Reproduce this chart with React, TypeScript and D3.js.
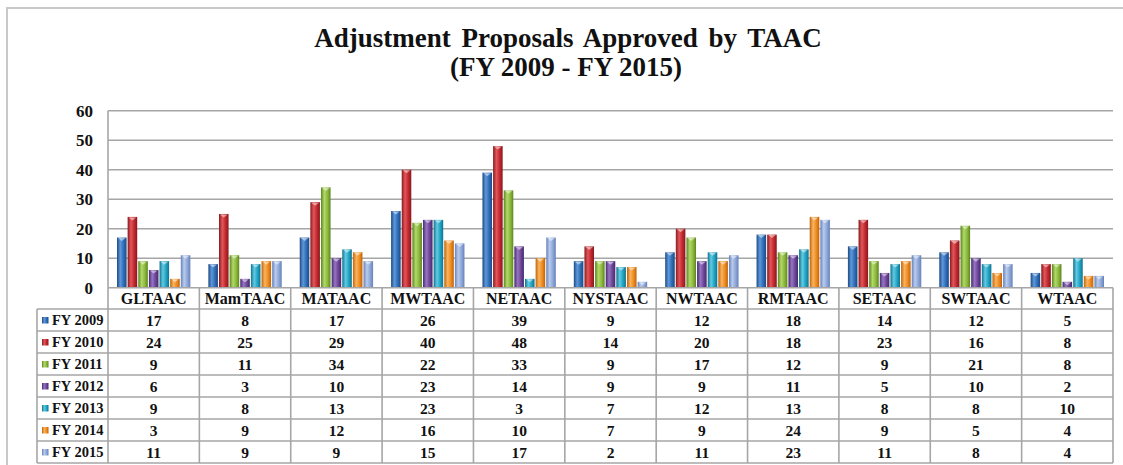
import React from "react";
import * as d3 from "d3";

const categories = ["GLTAAC", "MamTAAC", "MATAAC", "MWTAAC", "NETAAC", "NYSTAAC", "NWTAAC", "RMTAAC", "SETAAC", "SWTAAC", "WTAAC"];
const seriesNames = ["FY 2009", "FY 2010", "FY 2011", "FY 2012", "FY 2013", "FY 2014", "FY 2015"];
const fy2009 = [17, 8, 17, 26, 39, 9, 12, 18, 14, 12, 5];
const fy2010 = [24, 25, 29, 40, 48, 14, 20, 18, 23, 16, 8];
const fy2011 = [9, 11, 34, 22, 33, 9, 17, 12, 9, 21, 8];
const fy2012 = [6, 3, 10, 23, 14, 9, 9, 11, 5, 10, 2];
const fy2013 = [9, 8, 13, 23, 3, 7, 12, 13, 8, 8, 10];
const fy2014 = [3, 9, 12, 16, 10, 7, 9, 24, 9, 5, 4];
const fy2015 = [11, 9, 9, 15, 17, 2, 11, 23, 11, 8, 4];
const seriesValues = [fy2009, fy2010, fy2011, fy2012, fy2013, fy2014, fy2015];
const yTicks = [0, 10, 20, 30, 40, 50, 60];

const palette = [
  { base: "#2E6CB6", dark: "#1C4A85", light: "#5E98D8" },
  { base: "#C0272D", dark: "#861A1E", light: "#E2565A" },
  { base: "#8BB83A", dark: "#5C8520", light: "#B2D86A" },
  { base: "#6B4596", dark: "#462A6E", light: "#9775C2" },
  { base: "#1FA2C3", dark: "#13728C", light: "#62CAE2" },
  { base: "#EE8A1F", dark: "#BE640C", light: "#F9B460" },
  { base: "#8CA6D7", dark: "#6582BB", light: "#BACBEC" },
];

const FF = "Liberation Serif";

export default function App() {
  const W = 1123, H = 465;
  const plotL = 108, plotR = 1113, plotT = 110.7, plotB = 287.7;
  const x = d3.scaleBand().domain(categories).range([plotL, plotR]).padding(0);
  const bw = x.bandwidth();
  const inner = d3.scaleBand().domain(d3.range(seriesNames.length).map(String)).range([9, bw - 9]).paddingInner(0.1);
  const y = d3.scaleLinear().domain([0, 60]).range([plotB, plotT]);
  const rowH = 22;
  const headerTop = plotB, headerBot = 309;
  const legendL = 37;
  const gridColor = "#a6a6a6";

  return (
    <svg width={W} height={H} style={{ position: "absolute", left: 0, top: 0, display: "block", background: "#fff", fontFamily: FF }}>
      <style>{`text { font-family: "Liberation Serif", "Times New Roman", serif; font-weight: bold; }`}</style>
      <defs>
        {palette.map((p, i) => (
          <linearGradient key={i} id={`g${i}`} x1="0" x2="1" y1="0" y2="0">
            <stop offset="0" stopColor={p.dark} />
            <stop offset="0.35" stopColor={p.light} />
            <stop offset="0.7" stopColor={p.base} />
            <stop offset="1" stopColor={p.dark} />
          </linearGradient>
        ))}
      </defs>
      <rect x={7} y={8} width={W + 20} height={H + 20} fill="#fff" stroke="#c8c8c8" strokeWidth={2} />
      <text x={568} y={47} textAnchor="middle" fontFamily={FF} fontWeight="bold" fontSize={27} fill="#111" wordSpacing={4}>
        Adjustment Proposals Approved by TAAC
      </text>
      <text x={566} y={76} textAnchor="middle" fontFamily={FF} fontWeight="bold" fontSize={27} fill="#111">
        (FY 2009 - FY 2015)
      </text>
      {yTicks.map((t) => (
        <g key={t}>
          {t > 0 && <line x1={plotL} x2={plotR} y1={y(t)} y2={y(t)} stroke={gridColor} strokeWidth={1.6} />}
          <text x={93} y={y(t) + 6} textAnchor="end" fontFamily={FF} fontWeight="bold" fontSize={17} fill="#111">
            {t}
          </text>
        </g>
      ))}
      <line x1={plotL} x2={plotL} y1={plotT} y2={plotB} stroke={gridColor} strokeWidth={1.6} />
      {categories.map((c, ci) =>
        seriesValues.map((vals, si) => {
          const bx = (x(c) as number) + (inner(String(si)) as number);
          const w = inner.bandwidth();
          const top = y(vals[ci]);
          const h = plotB - top;
          return (
            <g key={`${ci}-${si}`}>
              <rect x={bx} y={top} width={w} height={h} fill={`url(#g${si})`} />
              {h > 3 && (
                <path
                  d={`M${bx + 1},${top + 0.5} L${bx + w - 1},${top + 0.5} L${bx + w / 2},${top + 3.5} Z`}
                  fill="#ffffff"
                  fillOpacity={0.5}
                />
              )}
            </g>
          );
        })
      )}
      {/* Data table */}
      <g fontWeight="bold" fill="#111" fontFamily={FF}>
        <line x1={plotL} x2={plotR} y1={headerTop} y2={headerTop} stroke={gridColor} strokeWidth={1.6} />
        {categories.map((c) => (
          <text key={c} x={(x(c) as number) + bw / 2} y={303.5} textAnchor="middle" fontSize={16} fontFamily={FF}>
            {c}
          </text>
        ))}
        {seriesNames.map((s, si) => {
          const top = headerBot + si * rowH;
          const cy = top + rowH / 2;
          return (
            <g key={s}>
              <rect x={42} y={cy - 3} width={6.5} height={6.5} fill={`url(#g${si})`} />
              <text x={52} y={cy + 5} fontSize={14.5} fontFamily={FF}>
                {s}
              </text>
              {categories.map((c, ci) => (
                <text key={c} x={(x(c) as number) + bw / 2} y={cy + 5.5} textAnchor="middle" fontSize={15.5} fontFamily={FF}>
                  {seriesValues[si][ci]}
                </text>
              ))}
            </g>
          );
        })}
        {d3.range(seriesNames.length + 1).map((r) => (
          <line
            key={r}
            x1={legendL}
            x2={plotR}
            y1={headerBot + r * rowH}
            y2={headerBot + r * rowH}
            stroke={gridColor}
            strokeWidth={1.6}
          />
        ))}
        <line x1={legendL} x2={legendL} y1={headerBot} y2={headerBot + seriesNames.length * rowH} stroke={gridColor} strokeWidth={1.6} />
        {categories.map((c) => (
          <line
            key={c}
            x1={x(c) as number}
            x2={x(c) as number}
            y1={headerTop}
            y2={headerBot + seriesNames.length * rowH}
            stroke={gridColor}
            strokeWidth={1.6}
          />
        ))}
        <line x1={plotR} x2={plotR} y1={headerTop} y2={headerBot + seriesNames.length * rowH} stroke={gridColor} strokeWidth={1.6} />
      </g>
    </svg>
  );
}
